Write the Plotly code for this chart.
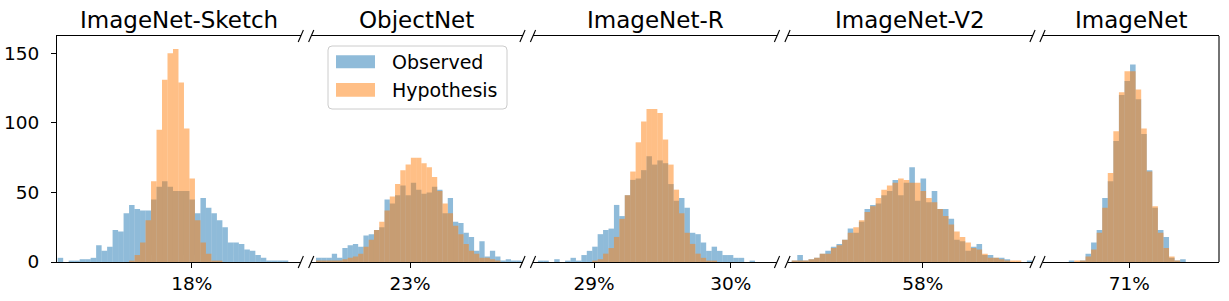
import plotly.graph_objects as go

# ---------------- data ----------------
titles = ["ImageNet-Sketch", "ObjectNet", "ImageNet-R", "ImageNet-V2", "ImageNet"]

# left edge of the first histogram bin and bin width (accuracy, %)
bin_start = [17.0237, 22.2865, 28.59, 57.0643, 70.5654]
bin_width = [0.04, 0.04, 0.0397, 0.04, 0.04]

observed_sketch = [3, 0, 1, 1, 2, 2, 3, 12, 8, 11, 23, 22, 35, 41, 38, 37, 37, 45, 54, 58, 54,
                   51, 51, 51, 45, 35, 46, 39, 35, 30, 25, 14, 14, 13, 9, 8, 5, 3, 1, 1, 1, 1]
hypothesis_sketch = [0, 0, 0, 0, 0, 0, 0, 0, 0, 0, 0, 0, 0, 1, 5, 14, 30, 58, 95, 131, 150,
                     153, 129, 96, 60, 30, 14, 6, 1, 1, 0, 0, 0, 0, 0, 0, 0, 0, 0, 0, 0, 0]

observed_objectnet = [3, 3, 3, 6, 3, 10, 12, 13, 11, 19, 20, 23, 25, 45, 42, 48, 55, 48, 57, 52,
                      49, 50, 54, 52, 35, 46, 29, 28, 21, 18, 8, 15, 4, 8, 4, 1, 2, 1, 1]
hypothesis_objectnet = [1, 1, 1, 1, 1, 2, 3, 4, 6, 11, 16, 23, 29, 37, 47, 56, 66, 70, 75, 75,
                        71, 68, 61, 51, 42, 35, 26, 20, 13, 8, 6, 3, 3, 2, 1, 0, 0, 0, 0]

observed_r = [1, 1, 0, 2, 0, 1, 3, 1, 5, 8, 11, 20, 23, 24, 41, 33, 48, 59, 60, 66, 76, 70, 73,
              71, 56, 44, 46, 39, 21, 20, 14, 8, 11, 8, 5, 5, 3, 3, 0, 1]
hypothesis_r = [0, 0, 0, 0, 0, 0, 0, 0, 0, 0, 1, 2, 6, 10, 18, 31, 48, 65, 86, 101, 110, 110,
                107, 88, 70, 52, 35, 21, 13, 6, 3, 1, 1, 0, 0, 0, 0, 0, 0, 0]

observed_v2 = [1, 5, 1, 2, 3, 6, 8, 11, 13, 16, 24, 21, 29, 38, 41, 42, 48, 51, 59, 48, 57, 68,
               44, 60, 43, 51, 38, 38, 31, 16, 15, 8, 11, 13, 5, 5, 3, 3, 2, 0, 0, 0, 1]
hypothesis_v2 = [1, 1, 1, 2, 3, 6, 6, 10, 12, 16, 21, 25, 30, 36, 40, 46, 52, 55, 57, 60, 59,
                 57, 57, 51, 46, 43, 38, 33, 27, 22, 18, 14, 10, 9, 6, 3, 3, 2, 1, 1, 1, 0, 0]

observed_imagenet = [1, 0, 1, 6, 14, 23, 46, 58, 87, 120, 130, 142, 117, 92, 66, 39, 23, 18, 3, 1, 2]
hypothesis_imagenet = [0, 1, 1, 4, 9, 21, 39, 64, 94, 122, 137, 137, 124, 96, 65, 40, 21, 10, 4, 1, 0]

observed = [observed_sketch, observed_objectnet, observed_r, observed_v2, observed_imagenet]
hypothesis = [hypothesis_sketch, hypothesis_objectnet, hypothesis_r, hypothesis_v2, hypothesis_imagenet]

tick_values = [[18], [23], [29, 30], [58], [71]]
tick_labels = [["18%"], ["23%"], ["29%", "30%"], ["58%"], ["71%"]]
y_ticks = [0, 50, 100, 150]
series_names = ["Observed", "Hypothesis"]

# ---------------- style / layout ----------------
W, H = 1229, 301
ML, MR, MT, MB = 57, 10, 36, 39
PW, PH = W - ML - MR, H - MT - MB

BLUE = "rgba(31,119,180,0.5)"
ORANGE = "rgba(255,127,14,0.5)"
FONT = "DejaVu Sans"

x_ranges = [[17.0186, 18.7949], [22.2501, 23.8539], [28.5538, 30.3387],
            [57.0343, 58.7843], [70.3764, 71.6444]]
panel_px = [[57, 300.8], [311.2, 522.5], [533, 777], [787.5, 1032.5], [1042.5, 1219]]


def px_x(p):
    return (p - ML) / PW


def px_y(p):
    return (H - MB - p) / PH


domains = [[px_x(a), px_x(b)] for a, b in panel_px]

fig = go.Figure()
for i in range(5):
    xa = "x" if i == 0 else f"x{i+1}"
    for vals, color, name in ((observed[i], BLUE, series_names[0]),
                              (hypothesis[i], ORANGE, series_names[1])):
        centers = [bin_start[i] + (k + 0.5) * bin_width[i] for k in range(len(vals))]
        fig.add_trace(go.Bar(x=centers, y=vals, width=bin_width[i], name=name,
                             marker=dict(color=color, line=dict(width=0)),
                             xaxis=xa, yaxis="y", showlegend=False))

axis_common = dict(showline=True, linecolor="black", linewidth=1.1, ticks="outside",
                   ticklen=5, tickwidth=1.1, tickcolor="black", showgrid=False,
                   zeroline=False, automargin=False,
                   tickfont=dict(family=FONT, size=18.5, color="black"))

layout = dict(width=W, height=H, margin=dict(l=ML, r=MR, t=MT, b=MB, autoexpand=False),
              plot_bgcolor="white", paper_bgcolor="white", barmode="overlay",
              showlegend=False, font=dict(family=FONT, color="black"))

for i in range(5):
    key = "xaxis" if i == 0 else f"xaxis{i+1}"
    layout[key] = dict(domain=domains[i], range=x_ranges[i], anchor="y", mirror=True,
                       tickvals=tick_values[i], ticktext=tick_labels[i], **axis_common)
layout["yaxis"] = dict(domain=[0, 1], range=[0, 162.4], anchor="x", tickvals=y_ticks,
                       ticklabelstandoff=8, **axis_common)
fig.update_layout(**layout)

# titles
for i in range(5):
    xr = "x domain" if i == 0 else f"x{i+1} domain"
    fig.add_annotation(text=titles[i], xref=xr, x=0.5, yref="paper", y=1, yanchor="bottom",
                       yshift=1, showarrow=False, font=dict(family=FONT, size=23, color="black"))

# right spine of last panel
fig.add_shape(type="line", xref="paper", yref="paper", x0=1, x1=1, y0=0, y1=1,
              line=dict(color="black", width=1.1))

# break marks
dx, dy = 2.6 / PW, 6.0 / PH
for i in range(4):
    for xc in (domains[i][1], domains[i + 1][0]):
        for yc in (0, 1):
            fig.add_shape(type="line", xref="paper", yref="paper",
                          x0=xc - dx, y0=yc - dy, x1=xc + dx, y1=yc + dy,
                          line=dict(color="black", width=1.1))

# legend (drawn)
lx0, lx1, ly0, ly1 = px_x(328), px_x(507), px_y(109), px_y(46)
rx, ry = 4 / PW, 4 / PH
path = (f"M{lx0+rx},{ly0} L{lx1-rx},{ly0} Q{lx1},{ly0} {lx1},{ly0+ry} "
        f"L{lx1},{ly1-ry} Q{lx1},{ly1} {lx1-rx},{ly1} L{lx0+rx},{ly1} "
        f"Q{lx0},{ly1} {lx0},{ly1-ry} L{lx0},{ly0+ry} Q{lx0},{ly0} {lx0+rx},{ly0} Z")
fig.add_shape(type="path", xref="paper", yref="paper", path=path,
              fillcolor="rgba(255,255,255,0.8)", line=dict(color="#cccccc", width=1))
for (ytop, ybot, ytext), color, name in (((55.3, 68.3, 62), BLUE, series_names[0]),
                                          ((83, 96.7, 90), ORANGE, series_names[1])):
    fig.add_shape(type="rect", xref="paper", yref="paper", x0=px_x(336), x1=px_x(375),
                  y0=px_y(ybot), y1=px_y(ytop), fillcolor=color, line=dict(width=0))
    fig.add_annotation(text=name, xref="paper", yref="paper", x=px_x(390), y=px_y(ytext),
                       xanchor="left", yanchor="middle", showarrow=False,
                       font=dict(family=FONT, size=19, color="black"))

fig.write_html("out.html", config={"displayModeBar": False},
               post_script="document.body.style.margin='0';")
